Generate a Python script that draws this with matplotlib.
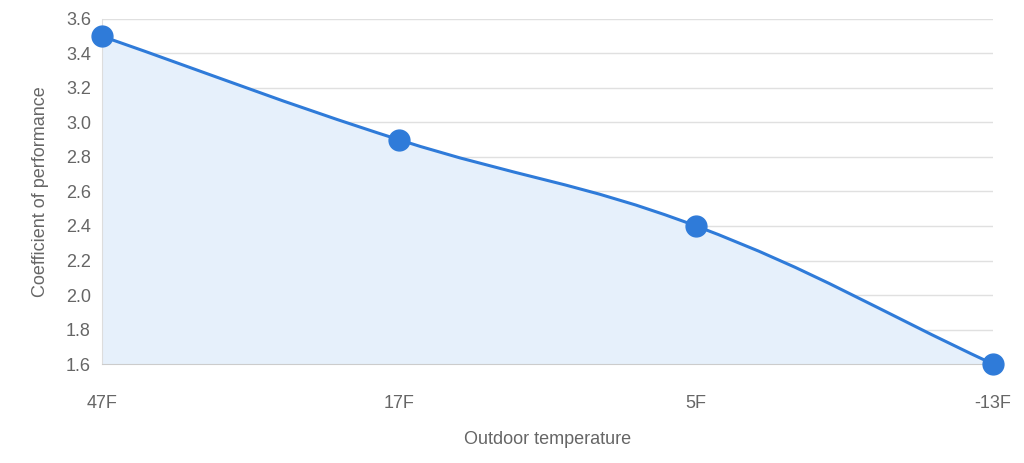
import numpy as np
import matplotlib.pyplot as plt
from matplotlib.path import Path
from matplotlib.patches import PathPatch

labels = ['47F', '17F', '5F', '-13F']
cop = [3.5, 2.9, 2.4, 1.6]

blue = '#2f7bd9'
grey = '#666666'

plt.rcParams['font.family'] = ['Liberation Sans', 'DejaVu Sans']

fig = plt.figure(figsize=(10.24, 4.63), dpi=100)
ax = fig.add_axes([0.0996, 0.2138, 0.8701, 0.7452])

x = np.arange(len(cop), dtype=float)
y = np.array(cop)
ax.set_xlim(0, 3)
ax.set_ylim(1.6, 3.6)

# chart.js style bezier (tension 0.4), computed in pixel space
sx, sy = 891 / 3, 345 / 2.0
px, py = x * sx, y * sy
t = 0.4
cps = []
for i in range(len(px)):
    p0 = (px[max(i - 1, 0)], py[max(i - 1, 0)])
    p2 = (px[min(i + 1, len(px) - 1)], py[min(i + 1, len(px) - 1)])
    d01 = np.hypot(px[i] - p0[0], py[i] - p0[1])
    d12 = np.hypot(p2[0] - px[i], p2[1] - py[i])
    s = d01 + d12
    fa, fb = t * d01 / s, t * d12 / s
    cps.append(((px[i] - fa * (p2[0] - p0[0]), py[i] - fa * (p2[1] - p0[1])),
                (px[i] + fb * (p2[0] - p0[0]), py[i] + fb * (p2[1] - p0[1]))))
verts = [(x[0], y[0])]
codes = [Path.MOVETO]
for i in range(len(px) - 1):
    a = cps[i][1]
    b = cps[i + 1][0]
    verts += [(a[0] / sx, a[1] / sy), (b[0] / sx, b[1] / sy), (x[i + 1], y[i + 1])]
    codes += [Path.CURVE4] * 3

fill_verts = verts + [(x[-1], 1.6), (x[0], 1.6), (x[0], y[0])]
fill_codes = codes + [Path.LINETO, Path.LINETO, Path.CLOSEPOLY]
ax.add_patch(PathPatch(Path(fill_verts, fill_codes), facecolor='#e6f0fb', edgecolor='none', zorder=1))
ax.add_patch(PathPatch(Path(verts, codes), facecolor='none', edgecolor=blue, lw=2.2, zorder=3))
ax.plot(x, y, 'o', color=blue, markersize=15, zorder=4, clip_on=False)

ax.set_yticks(np.arange(1.6, 3.61, 0.2))
ax.set_yticklabels([f'{v:.1f}' for v in np.arange(1.6, 3.61, 0.2)])
ax.set_xticks(x)
ax.set_xticklabels(labels)
ax.grid(axis='y', color='#e0e0e0', lw=1)
ax.set_axisbelow(True)
for side in ['top', 'right']:
    ax.spines[side].set_visible(False)
ax.spines['left'].set_color('#dddddd')
ax.spines['bottom'].set_color('#cccccc')
ax.tick_params(axis='both', colors=grey, labelsize=13, length=0)
ax.tick_params(axis='x', pad=22)
ax.tick_params(axis='y', pad=8)
ax.set_xlabel('Outdoor temperature', color=grey, fontsize=13, labelpad=14)
ax.set_ylabel('Coefficient of performance', color=grey, fontsize=13, labelpad=12)

fig.savefig('out.png', dpi=100)
